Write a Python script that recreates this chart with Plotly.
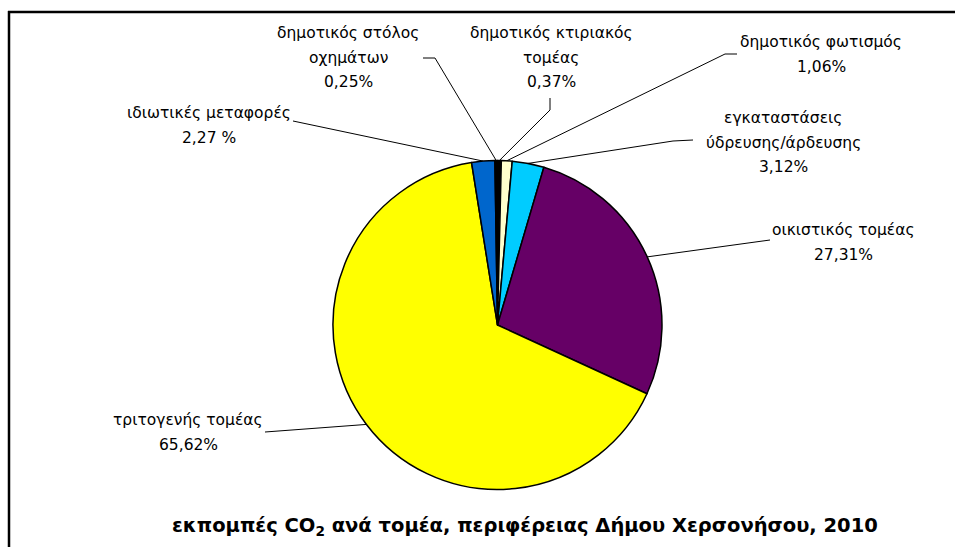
import math
import plotly.graph_objects as go

# CO2 emissions by sector, Chersonissos municipality, 2010 (percent)
sectors = [
    "δημοτικός κτιριακός τομέας",
    "δημοτικός φωτισμός",
    "εγκαταστάσεις ύδρευσης/άρδευσης",
    "οικιστικός τομέας",
    "τριτογενής τομέας",
    "ιδιωτικές μεταφορές",
    "δημοτικός στόλος οχημάτων",
]
shares = [0.37, 1.06, 3.12, 27.31, 65.62, 2.27, 0.25]

# text lines of each outside label (value line is appended from the data)
label_lines = [
    ["δημοτικός κτιριακός", "τομέας"],
    ["δημοτικός φωτισμός"],
    ["εγκαταστάσεις", "ύδρευσης/άρδευσης"],
    ["οικιστικός τομέας"],
    ["τριτογενής τομέας"],
    ["ιδιωτικές μεταφορές"],
    ["δημοτικός στόλος", "οχημάτων"],
]
value_suffix = ["%", "%", "%", "%", "%", " %", "%"]

slice_colors = ["#000000", "#FFFFCC", "#00CCFF", "#660066", "#FFFF00", "#0066CC", "#000000"]

W, H = 955, 547
CX, CY, R = 497.5, 325.0, 164.5  # pie centre and radius in pixels

# label placement: centre x, y of first line, leader-line start points
label_style = [
    dict(x=551, y=33, path=[(550, 98), (550, 110)]),
    dict(x=821, y=42, path=[(737, 54), (725, 54)]),
    dict(x=783, y=118, path=[(693, 140), (673, 141)]),
    dict(x=843, y=230, path=[(770, 240)]),
    dict(x=188, y=420, path=[(265, 432)]),
    dict(x=209, y=113, path=[(293, 121)]),
    dict(x=348, y=33, path=[(423, 58), (435, 58)]),
]
LINE_GAP = 24.5

LABEL_FONT = dict(family="DejaVu Sans, Liberation Sans, sans-serif", size=15.5, color="#000000")
TITLE_FONT = dict(family="DejaVu Sans, Liberation Sans, sans-serif", size=19.5, color="#000000")

fig = go.Figure()

fig.add_trace(go.Pie(
    labels=sectors,
    values=shares,
    sort=False,
    direction="clockwise",
    rotation=0,
    textinfo="none",
    hoverinfo="label+percent",
    marker=dict(colors=slice_colors, line=dict(color="#000000", width=1.5)),
    domain=dict(x=[(CX - R) / W, (CX + R) / W],
                y=[(H - CY - R) / H, (H - CY + R) / H]),
    showlegend=False,
))

total = sum(shares)
cum = 0.0
annotations = []
for i, v in enumerate(shares):
    mid = (cum + v / 2) / total * 2 * math.pi
    cum += v
    ex = CX + R * math.sin(mid)
    ey = CY - R * math.cos(mid)
    st = label_style[i]
    pts = st["path"] + [(ex, ey)]
    fig.add_trace(go.Scatter(
        x=[p[0] for p in pts], y=[p[1] for p in pts],
        mode="lines", line=dict(color="#000000", width=1),
        hoverinfo="skip", showlegend=False,
    ))
    lines = label_lines[i] + [f"{v:.2f}".replace(".", ",") + value_suffix[i]]
    for k, txt in enumerate(lines):
        annotations.append(dict(
            x=st["x"], y=st["y"] + k * LINE_GAP, xref="x", yref="y",
            text=txt, showarrow=False, xanchor="center", yanchor="middle",
            font=LABEL_FONT,
        ))

annotations.append(dict(
    x=525, y=526, xref="x", yref="y",
    text="<b>εκπομπές CO<sub>2</sub> ανά τομέα, περιφέρειας Δήμου Χερσονήσου, 2010</b>",
    showarrow=False, xanchor="center", yanchor="middle",
    font=TITLE_FONT,
))

fig.update_layout(
    width=W, height=H,
    margin=dict(l=0, r=0, t=0, b=0),
    paper_bgcolor="#FFFFFF", plot_bgcolor="rgba(0,0,0,0)",
    xaxis=dict(range=[0, W], visible=False, fixedrange=True),
    yaxis=dict(range=[H, 0], visible=False, fixedrange=True),
    annotations=annotations,
    shapes=[
        dict(type="line", xref="x", yref="y", x0=8, y0=12, x1=W, y1=12,
             line=dict(color="#000000", width=2.5)),
        dict(type="line", xref="x", yref="y", x0=9, y0=11, x1=9, y1=H,
             line=dict(color="#000000", width=2.5)),
    ],
)

fig.write_html("out.html")
